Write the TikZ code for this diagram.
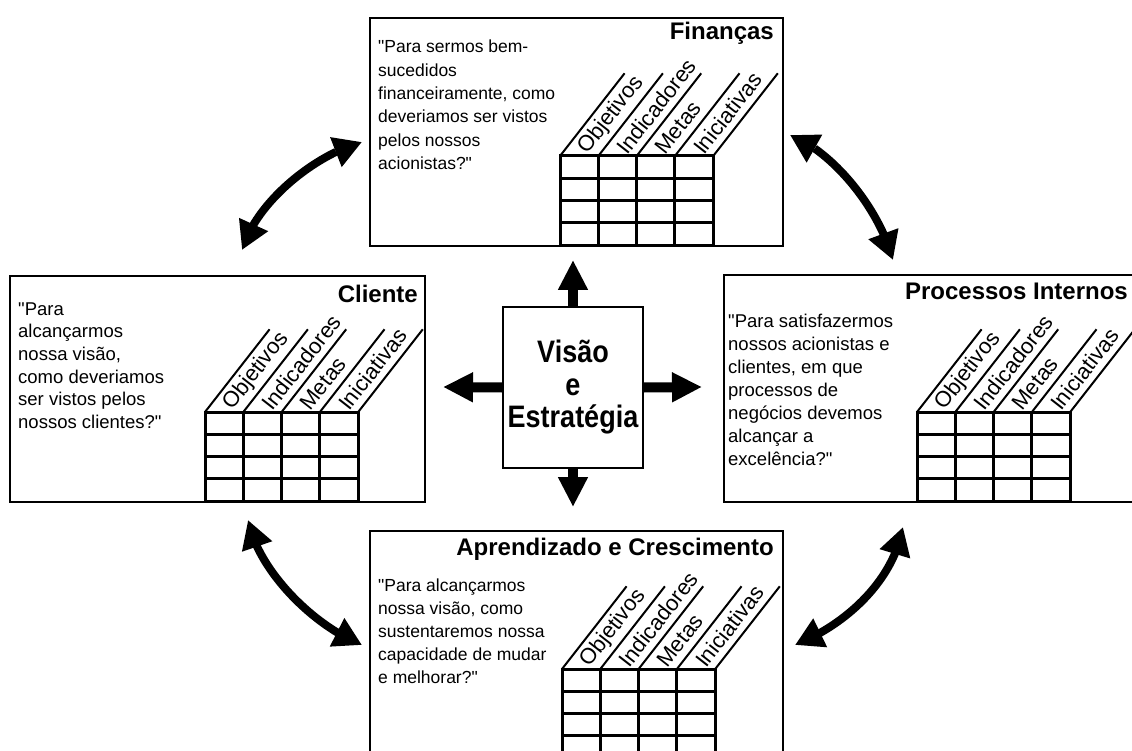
\documentclass[tikz,border=0pt]{standalone}
\usepackage{fontspec}
\setmainfont{Liberation Sans}
\usepackage{graphicx}
\usetikzlibrary{arrows.meta,bending}
\newcommand\qlines[2]{\vtop{\baselineskip=#1pt\lineskiplimit=-20pt\lineskip=0pt\halign{##\hfil\cr#2\crcr}}}
\newcommand\qq{\textquotedbl}
\tikzset{
  box/.style={draw, line width=2pt, anchor=north west, inner sep=0pt},
  tline/.style={line width=3pt, line cap=rect},
  sline/.style={line width=2pt},
  lbl/.style={anchor=west, rotate=52, inner sep=0pt, font=\fontsize{22}{26}\selectfont},
  ttl/.style={anchor=base east, inner sep=0pt, font=\fontsize{24}{28}\selectfont\bfseries},
  qtxt/.style={anchor=base west, inner sep=0pt},
  carrow/.style={line width=10pt, -{Triangle[width=28pt,length=30pt]}},
  darrow/.style={line width=8pt, {Triangle[width=30pt,length=28pt]}-{Triangle[width=30pt,length=28pt]}},
  bsc/.pic={
    \foreach \i in {0,...,4}{\draw[tline] (\i*38.3,0) -- (\i*38.3,89.2);}
    \foreach \j in {0,...,4}{\draw[tline] (0,\j*22.3) -- (153.2,\j*22.3);}
    \foreach \i in {0,...,4}{\draw[sline] (\i*38.3,0) -- ++(64.6,-82.7);}
    \foreach \lab [count=\k from 0] in {Objetivos,Indicadores,Metas,Iniciativas}{\node[lbl] (-l\k) at (\k*38.3+22.9,-4.7) {\lab};}
  }
}
\begin{document}
\begin{tikzpicture}[x=1pt,y=-1pt]
\useasboundingbox (0,0) rectangle (1132,751);
\fill[white] (0,0) rectangle (1132,751);
\clip (0,0) rectangle (1132,751);

% boxes
\node[box, minimum width=413pt, minimum height=228pt] (fin) at (369,17) {};
\node[box, minimum width=415pt, minimum height=226pt] (cli) at (9,275) {};
\node[box, minimum width=415pt, minimum height=227pt] (proc) at (723,274) {};
\node[box, minimum width=413pt, minimum height=228pt] (apr) at (369,530) {};

% titles
\node[ttl] (finT) at (774,40) {Finanças};
\node[ttl] (cliT) at (418,302) {Cliente};
\node[ttl] (procT) at (1128,299) {Processos Internos};
\node[ttl] (aprT) at (774,555) {Aprendizado e Crescimento};

% questions
\node[qtxt, font=\fontsize{17.5}{23}\selectfont] (finQ) at (378,53)
  {\qlines{23.3}{\qq Para sermos bem-\cr sucedidos\cr financeiramente, como\cr deveriamos ser vistos\cr pelos nossos\cr acionistas?\qq}};
\node[qtxt, font=\fontsize{18.5}{23}\selectfont] (cliQ) at (18,315)
  {\qlines{22.7}{\qq Para\cr alcançarmos\cr nossa visão,\cr como deveriamos\cr ser vistos pelos\cr nossos clientes?\qq}};
\node[qtxt, font=\fontsize{18.5}{23}\selectfont] (procQ) at (728,327)
  {\qlines{23}{\qq Para satisfazermos\cr nossos acionistas e\cr clientes, em que\cr processos de\cr negócios devemos\cr alcançar a\cr excelência?\qq}};
\node[qtxt, font=\fontsize{17.5}{23}\selectfont] (aprQ) at (378,591)
  {\qlines{23}{\qq Para alcançarmos\cr nossa visão, como\cr sustentaremos nossa\cr capacidade de mudar\cr e melhorar?\qq}};

% tables
\pic (tfin) at (560,156) {bsc};
\pic (tcli) at (205,412) {bsc};
\pic (tproc) at (917,412) {bsc};
\pic (tapr) at (562,669) {bsc};

% centre
\node[draw, line width=2pt, minimum width=140pt, minimum height=161pt, inner sep=0pt,
      align=center, font=\fontsize{27}{32.5}\selectfont\bfseries] (vis) at (573,387.5)
  {\scalebox{1}[1.15]{Visão}\\\scalebox{1}[1.15]{e}\\\scalebox{1}[1.15]{Estratégia}};

\coordinate (upT) at (573,260);
\coordinate (dnT) at (573,507);
\coordinate (lfT) at (443,387);
\coordinate (rtT) at (702,387);
\draw[carrow] (vis.north) -- (upT);
\draw[carrow] (vis.south) -- (dnT);
\draw[carrow] (vis.west) -- (lfT);
\draw[carrow] (vis.east) -- (rtT);

% curved double arrows
\coordinate (tlA) at (242,250);
\coordinate (tlB) at (362,142);
\coordinate (trA) at (893,260);
\coordinate (trB) at (790,135);
\coordinate (blA) at (248,520);
\coordinate (blB) at (362,645);
\coordinate (brA) at (903,527);
\coordinate (brB) at (795,645);
\draw[darrow] (tlA) .. controls +(15,-50) and +(-45,12) .. (tlB);
\draw[darrow] (trA) .. controls +(-15,-55) and +(40,15) .. (trB);
\draw[darrow] (blA) .. controls +(10,50) and +(-50,-20) .. (blB);
\draw[darrow] (brA) .. controls +(-10,55) and +(50,-20) .. (brB);
\end{tikzpicture}
\end{document}
